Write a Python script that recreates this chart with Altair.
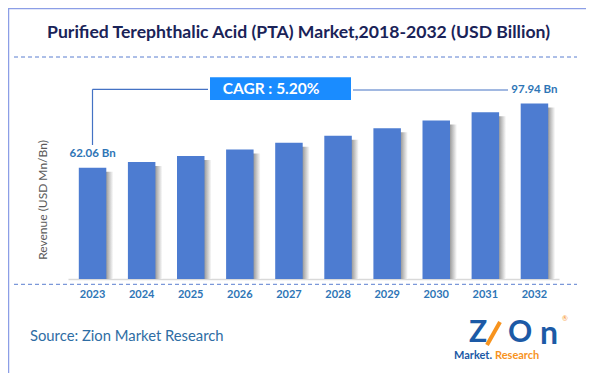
import altair as alt
import pandas as pd

years = ["2023", "2024", "2025", "2026", "2027", "2028", "2029", "2030", "2031", "2032"]
values = [62.06, 65.29, 68.68, 72.25, 76.01, 79.96, 84.12, 88.50, 93.10, 97.94]
title_text = "Purified Terephthalic Acid (PTA) Market,2018-2032 (USD Billion)"
cagr_text = "CAGR :  5.20%"
y_title = "Revenue (USD Mn/Bn)"
source_text = "Source: Zion Market Research"

FONT = "Lato"
df = pd.DataFrame({"year": years, "value": values})
df_lab = pd.DataFrame({"year": [years[0], years[-1]],
                       "value": [values[0], values[-1]],
                       "label": [f"{values[0]:.2f} Bn", f"{values[-1]:.2f} Bn"]})
one = pd.DataFrame({"d": [0]})

xenc = alt.X("year:N", sort=years,
             scale=alt.Scale(paddingInner=0.44, paddingOuter=0.22),
             axis=alt.Axis(labelAngle=0, labelFont=FONT, labelFontWeight="bold",
                           labelFontSize=11, labelColor="#2e75b6",
                           domainColor="#d9d9d9", domainWidth=1.5, ticks=False,
                           labelPadding=9, title=None))
yenc = alt.Y("value:Q", scale=alt.Scale(domain=[0, 110]), axis=None)

base = alt.Chart(df)

shadow = base.mark_bar(
    xOffset=7, yOffset=4,
    color=alt.Gradient(gradient="linear",
                       stops=[alt.GradientStop(color="#ffffff", offset=0),
                              alt.GradientStop(color="#9a9a9a", offset=0.74),
                              alt.GradientStop(color="#ffffff", offset=1)],
                       x1=0, x2=1, y1=0, y2=0)
).encode(x=xenc, y=yenc, y2=alt.datum(0))

bars = base.mark_bar(color="#4d7cd1").encode(x=xenc, y=yenc)

labels = alt.Chart(df_lab).mark_text(font=FONT, fontWeight="bold", fontSize=11.5,
                                     color="#2e75b6", dy=-14, baseline="middle").encode(
    x=alt.X("year:N", sort=years), y=alt.Y("value:Q"), text="label:N")


def hline(x1, x2, y, color, dash=None, width=1.2):
    kw = dict(color=color, strokeWidth=width)
    if dash:
        kw["strokeDash"] = dash
    return alt.Chart(one).mark_rule(**kw).encode(
        x=alt.value(x1), x2=alt.value(x2), y=alt.value(y))


def vline(x, y1, y2, color, width=1.2):
    return alt.Chart(one).mark_rule(color=color, strokeWidth=width).encode(
        x=alt.value(x), y=alt.value(y1), y2=alt.value(y2))


def txt(text, x, y, **kw):
    return alt.Chart(one).mark_text(**kw).encode(
        x=alt.value(x), y=alt.value(y), text=alt.value(text))


border = alt.Chart(one).mark_rect(fill="white", fillOpacity=0, stroke="#8c9ee6",
                                  strokeWidth=1.5).encode(
    x=alt.value(-59.5), x2=alt.value(520), y=alt.value(-73.5), y2=alt.value(293))

title = txt(title_text, 230.5, -49, font=FONT, fontWeight="bold", fontSize=17.6,
            color="#1a2358", align="center", baseline="middle")

dash_top = hline(-54, 509, -25, "#5b7fd0", dash=[4, 3], width=1)
dash_bot = hline(-54, 509, 202.3, "#5b7fd0", dash=[4, 3], width=1)

cagr_box = alt.Chart(one).mark_rect(color="#1a8cff").encode(
    x=alt.value(142), x2=alt.value(283), y=alt.value(-4.7), y2=alt.value(18))
cagr = txt(cagr_text, 154.7, 7, font=FONT, fontWeight="bold", fontSize=15.5,
           color="white", align="left", baseline="middle")

conn1 = vline(24.5, 7.3, 63, "#4472c4")
conn2 = hline(24.5, 140, 7.3, "#4472c4")
conn3 = hline(285, 440, 8, "#4472c4")

ytitle = txt(y_title, -24.7, 118, font=FONT, fontSize=12, color="#595959",
             angle=270, align="center", baseline="middle")

source = txt(source_text, -38, 254.7, font=FONT, fontSize=14.8, color="#2e6da4",
             align="left", baseline="middle")

# logo approximation
logo_z = txt("Z", 410, 251, font=FONT, fontWeight="bold", fontSize=30,
             color="#1c5aa6", align="center", baseline="middle")
logo_arrow = alt.Chart(one).mark_rule(color="#f7931e", strokeWidth=4).encode(
    x=alt.value(419), x2=alt.value(432), y=alt.value(263), y2=alt.value(240))
logo_o = txt("O", 452, 251, font=FONT, fontWeight="bold", fontSize=30,
             color="#1c5aa6", align="center", baseline="middle")
logo_n = txt("n", 481, 252, font=FONT, fontWeight="bold", fontSize=32,
             color="#1c5aa6", align="center", baseline="middle")
logo_r = txt("®", 497, 237, font=FONT, fontSize=7, color="#f7931e",
             align="center", baseline="middle")
logo_m = txt("Market.", 424, 274, font=FONT, fontWeight="bold", fontSize=11,
             color="#1c5aa6", align="right", baseline="middle")
logo_res = txt("Research", 427, 274, font=FONT, fontWeight="bold", fontSize=11,
               color="#f7931e", align="left", baseline="middle")

chart = alt.layer(
    border, title, dash_top, dash_bot, shadow, bars, labels, cagr_box, cagr,
    conn1, conn2, conn3, ytitle, source,
    logo_z, logo_arrow, logo_o, logo_n, logo_r, logo_m, logo_res
).properties(
    width=491, height=197,
    autosize=alt.AutoSizeParams(type="none"),
    padding={"left": 60, "top": 74, "right": 27, "bottom": 94},
).configure_view(stroke=None)

chart.save("out.html", embed_options={"renderer": "svg", "actions": False})
